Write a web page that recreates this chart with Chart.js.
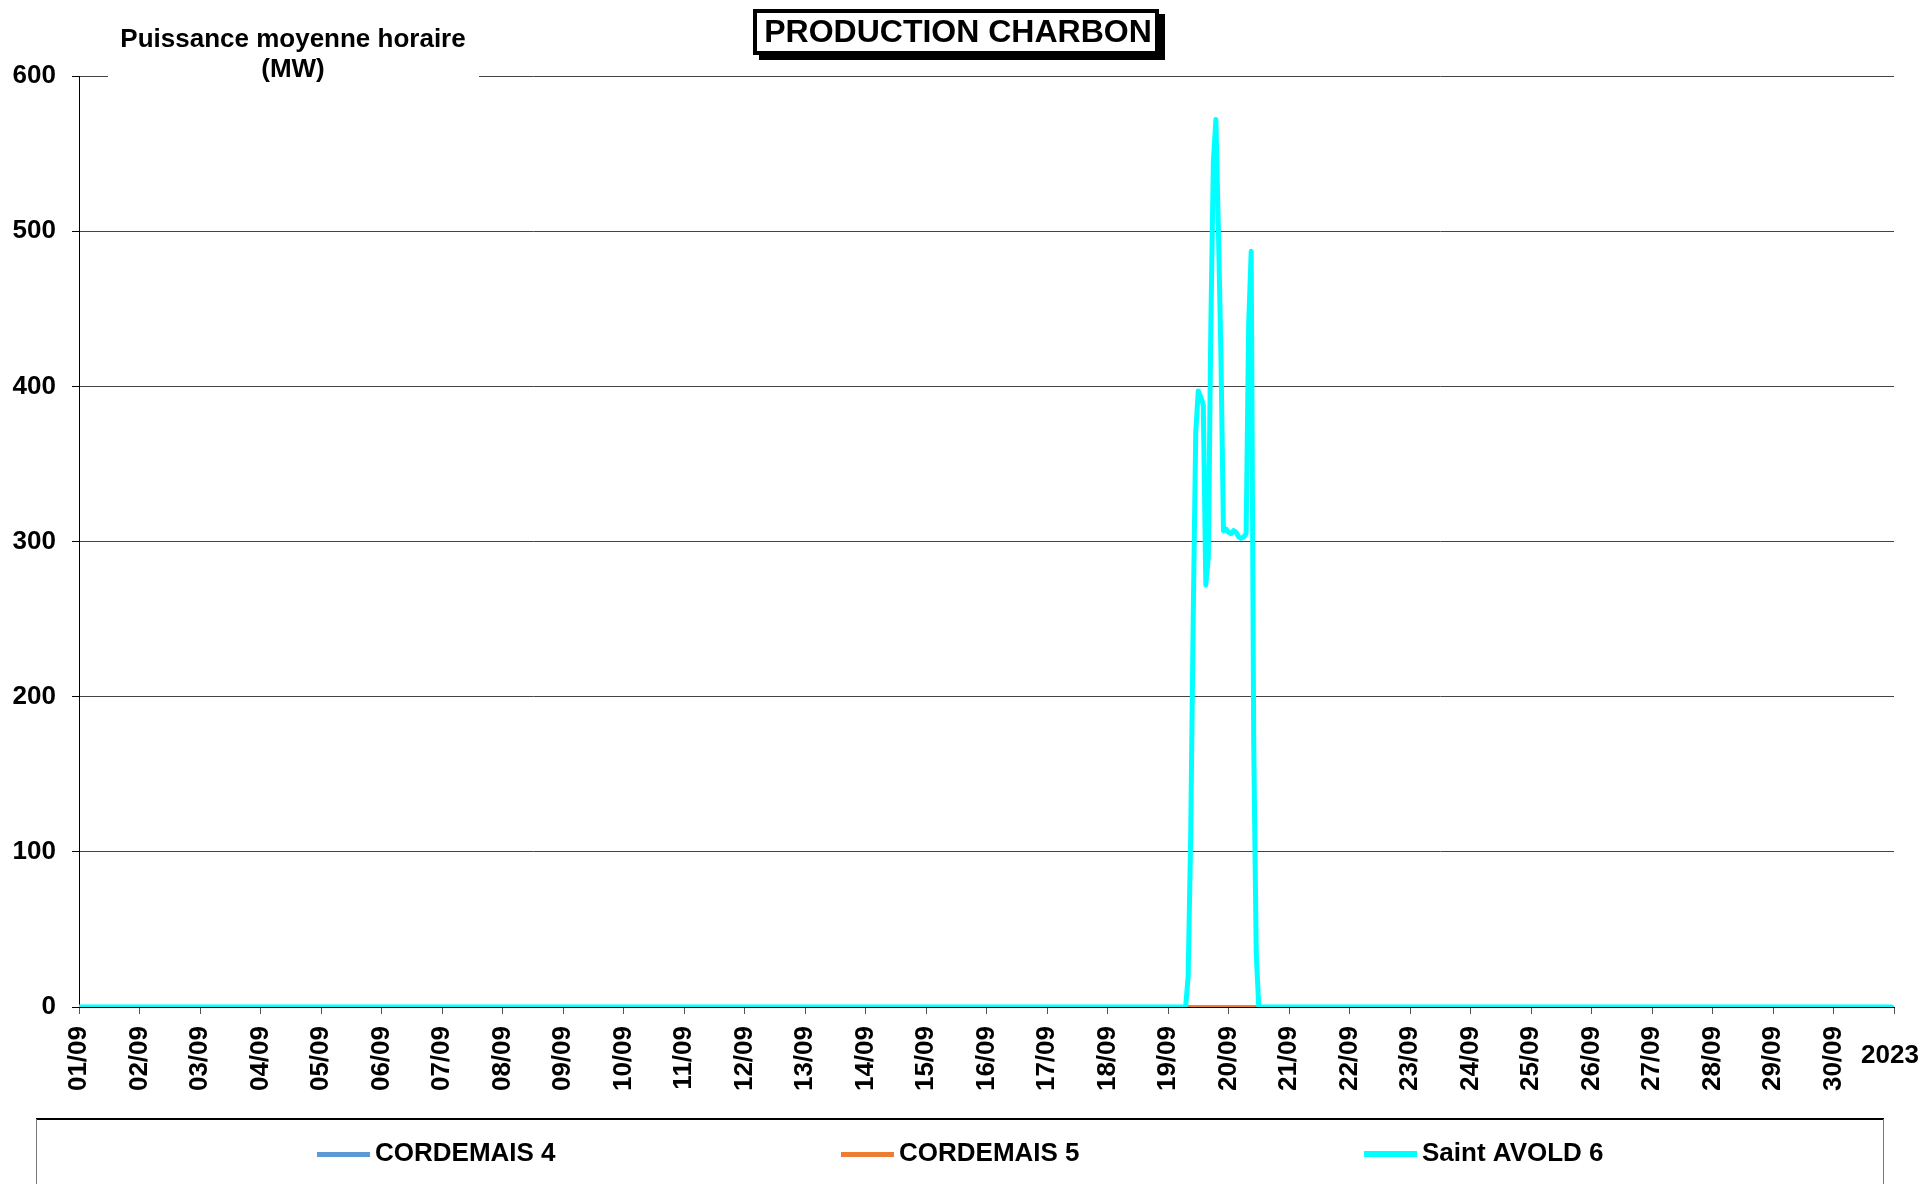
<!DOCTYPE html>
<html>
<head>
<meta charset="utf-8">
<title>Production charbon</title>
<script src="https://cdn.jsdelivr.net/npm/chart.js@4.4.0/dist/chart.umd.min.js"></script>
<style>
  html, body { margin: 0; padding: 0; background: #fff; }
</style>
</head>
<body>
<canvas id="chart" width="1922" height="1184"></canvas>
<script>
// Hourly mean power (MW), September 2023.
// Only the hours where a series changes are listed, hour 0 = 01/09 00:00.
const dayLabels = [
  '01/09', '02/09', '03/09', '04/09', '05/09', '06/09', '07/09', '08/09', '09/09', '10/09',
  '11/09', '12/09', '13/09', '14/09', '15/09', '16/09', '17/09', '18/09', '19/09', '20/09',
  '21/09', '22/09', '23/09', '24/09', '25/09', '26/09', '27/09', '28/09', '29/09', '30/09'
];
const yearLabel = '2023';
const yTicks = [0, 100, 200, 300, 400, 500, 600];

const seriesNames = ['CORDEMAIS 4', 'CORDEMAIS 5', 'Saint AVOLD 6'];
const seriesColors = ['#5B9BD5', '#ED7D31', '#00FFFF'];

const cordemais4Hours = [0, 719];
const cordemais4MW = [0, 0];

const cordemais5Hours = [0, 719];
const cordemais5MW = [0, 0];

const avoldHours = [0, 439, 440, 441, 442, 443, 444, 445, 446, 447, 448, 449, 450, 451, 452, 453,
  454, 455, 456, 457, 458, 459, 460, 461, 462, 463, 464, 465, 466, 467, 468, 719];
const avoldMW = [0, 0, 20, 110, 250, 370, 397, 393, 388, 272, 290, 440, 545, 572, 500, 420,
  307, 308, 306, 305, 307, 306, 303, 302, 303, 305, 440, 487, 170, 35, 0, 0];

const FONT = '"Liberation Sans", Arial, sans-serif';

const toPoints = (hours, values) => hours.map((h, i) => ({ x: h, y: values[i] }));

// title box, y axis caption, year label and the legend frame
const decorations = {
  id: 'decorations',
  afterDraw(chart) {
    const ctx = chart.ctx;
    ctx.save();

    // y axis caption sits on a white patch over the top gridline
    ctx.fillStyle = '#fff';
    ctx.fillRect(108, 14, 371, 68);
    ctx.fillStyle = '#000';
    ctx.font = 'bold 26px ' + FONT;
    ctx.textAlign = 'center';
    ctx.textBaseline = 'middle';
    ctx.fillText('Puissance moyenne horaire', 293, 40);
    ctx.fillText('(MW)', 293, 70);

    // title with shadowed frame
    ctx.fillStyle = '#000';
    ctx.fillRect(759, 14, 406, 46);
    ctx.fillStyle = '#fff';
    ctx.fillRect(753, 9, 406, 46);
    ctx.lineWidth = 4;
    ctx.strokeStyle = '#000';
    ctx.strokeRect(755, 11, 402, 42);
    ctx.fillStyle = '#000';
    ctx.font = 'bold 32px ' + FONT;
    ctx.fillText('PRODUCTION CHARBON', 958, 33);

    // year under the last tick
    const xScale = chart.scales.x;
    ctx.font = 'bold 26px ' + FONT;
    ctx.fillText(yearLabel, xScale.getPixelForValue(720) - 4, 1056);

    // legend frame
    ctx.strokeStyle = '#000';
    ctx.lineWidth = 2;
    ctx.beginPath();
    ctx.moveTo(36, 1119);
    ctx.lineTo(1884, 1119);
    ctx.stroke();
    ctx.strokeStyle = '#777';
    ctx.lineWidth = 1;
    ctx.beginPath();
    ctx.moveTo(36.5, 1119);
    ctx.lineTo(36.5, 1184);
    ctx.moveTo(1883.5, 1119);
    ctx.lineTo(1883.5, 1184);
    ctx.stroke();

    // legend entries
    const legendX = [317, 841, 1364];
    ctx.textAlign = 'left';
    chart.data.datasets.forEach((ds, i) => {
      ctx.fillStyle = ds.borderColor;
      ctx.fillRect(legendX[i], i === 2 ? 1151 : 1152, 53, i === 2 ? 6 : 5);
      ctx.fillStyle = '#000';
      ctx.fillText(ds.label, legendX[i] + 58, 1154);
    });

    ctx.restore();
  }
};

const tickFont = { family: FONT, size: 26, weight: 'bold' };

new Chart(document.getElementById('chart'), {
  type: 'line',
  data: {
    datasets: [
      {
        label: seriesNames[0],
        data: toPoints(cordemais4Hours, cordemais4MW),
        borderColor: seriesColors[0],
        backgroundColor: seriesColors[0],
        order: 2
      },
      {
        label: seriesNames[1],
        data: toPoints(cordemais5Hours, cordemais5MW),
        borderColor: seriesColors[1],
        backgroundColor: seriesColors[1],
        order: 1
      },
      {
        label: seriesNames[2],
        data: toPoints(avoldHours, avoldMW),
        borderColor: seriesColors[2],
        backgroundColor: seriesColors[2],
        borderWidth: 5,
        order: 0
      }
    ]
  },
  options: {
    responsive: false,
    animation: false,
    devicePixelRatio: 1,
    layout: { padding: { top: 76, right: 28, bottom: 67, left: 0 } },
    elements: {
      point: { radius: 0 },
      line: { tension: 0, borderWidth: 4, borderJoinStyle: 'round', borderCapStyle: 'round' }
    },
    plugins: {
      legend: { display: false },
      title: { display: false },
      tooltip: { enabled: false }
    },
    scales: {
      x: {
        type: 'linear',
        min: 0,
        max: 720,
        border: { color: '#000', width: 1 },
        grid: { drawOnChartArea: false, drawTicks: true, tickLength: 7, tickColor: '#555' },
        ticks: {
          stepSize: 24,
          autoSkip: false,
          minRotation: 90,
          maxRotation: 90,
          padding: 12,
          color: '#000',
          font: tickFont,
          callback: v => dayLabels[v / 24] ?? ''
        },
        afterFit: s => {
          s.height = 110;
          s.paddingLeft = 0;
          s.paddingRight = 0;
        }
      },
      y: {
        min: 0,
        max: 600,
        border: { color: '#000', width: 1 },
        grid: { color: '#444', lineWidth: 1, tickLength: 7, tickColor: '#000' },
        afterBuildTicks: s => { s.ticks = yTicks.map(v => ({ value: v })); },
        ticks: { padding: 16, color: '#000', font: tickFont },
        afterFit: s => { s.width = 79; }
      }
    }
  },
  plugins: [decorations]
});
</script>
</body>
</html>
